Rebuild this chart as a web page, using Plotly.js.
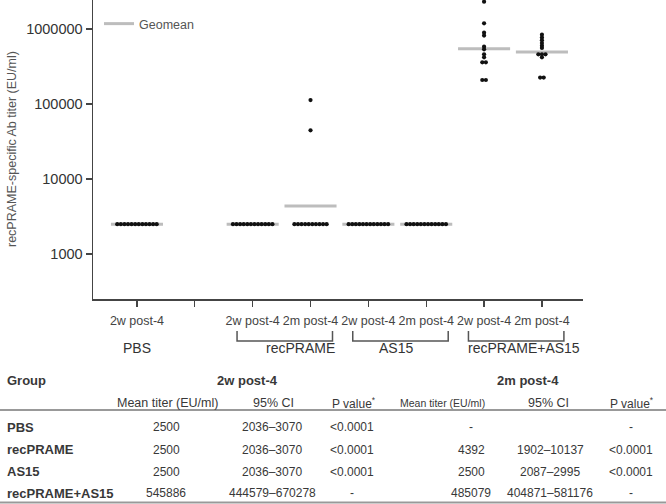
<!DOCTYPE html>
<html>
<head>
<meta charset="utf-8">
<script src="https://cdn.plot.ly/plotly-3.0.1.min.js"></script>
<style>
  body { margin: 0; background: #fff; }
  #chart { width: 666px; height: 504px; }
</style>
</head>
<body>
<div id="chart"></div>
<script>
// x slots on the axis (slot 2 is an unlabeled tick between PBS and recPRAME)
let tickSlots = [1, 3, 4, 5, 6, 7, 8];
let tickLabels = ['2w post-4', '2w post-4', '2m post-4', '2w post-4', '2m post-4', '2w post-4', '2m post-4'];
let blankSlots = [2];

// titers per animal (EU/ml)
let pbs2w = [2500, 2500, 2500, 2500, 2500, 2500, 2500, 2500, 2500, 2500, 2500, 2500];
let recPrame2w = [2500, 2500, 2500, 2500, 2500, 2500, 2500, 2500, 2500, 2500, 2500, 2500];
let recPrame2m = [113000, 44600, 2500, 2500, 2500, 2500, 2500, 2500, 2500, 2500, 2500, 2500];
let as15_2w = [2500, 2500, 2500, 2500, 2500, 2500, 2500, 2500, 2500, 2500, 2500, 2500];
let as15_2m = [2500, 2500, 2500, 2500, 2500, 2500, 2500, 2500, 2500, 2500, 2500, 2500];
let combo2w = [2310000, 1190000, 894000, 819000, 581000, 536000, 460000, 420000, 360000, 360000, 209000, 209000];
let combo2m = [840000, 770000, 710000, 650000, 600000, 560000, 460000, 460000, 460000, 420000, 225000, 225000];

let seriesList = [pbs2w, recPrame2w, recPrame2m, as15_2w, as15_2m, combo2w, combo2m];
let seriesSlots = [1, 3, 4, 5, 6, 7, 8];

// group labels under the axis
let groupNames = ['PBS', 'recPRAME', 'AS15', 'recPRAME+AS15'];
let groupSlots = [[1], [3, 4], [5, 6], [7, 8]];

let yTickVals = [1000, 10000, 100000, 1000000];
let yTickText = ['1000', '10000', '100000', '1000000'];

// table under the chart
let tableGroups = ['PBS', 'recPRAME', 'AS15', 'recPRAME+AS15'];
let mean2w = ['2500', '2500', '2500', '545886'];
let ci2w = ['2036–3070', '2036–3070', '2036–3070', '444579–670278'];
let p2w = ['<0.0001', '<0.0001', '<0.0001', '-'];
let mean2m = ['-', '4392', '2500', '485079'];
let ci2m = ['', '1902–10137', '2087–2995', '404871–581176'];
let p2m = ['-', '<0.0001', '<0.0001', '-'];

// ---- layout helpers (pixels -> paper) ----
let W = 666, H = 504;
function px(x) { return x / W; }
function py(y) { return 1 - y / H; }

let dotGap = 0.062;   // horizontal spacing of tied dots, in slot units
let halfLine = 0.45;  // half width of geomean bar

// dots: tied values are spread side by side
let dotX = [], dotY = [];
let gmX = [], gmY = [];
for (let s = 0; s < seriesList.length; s++) {
  let vals = seriesList[s];
  let counts = {};
  vals.forEach(v => { counts[v] = (counts[v] || 0) + 1; });
  let seen = {};
  vals.forEach(v => {
    let n = counts[v];
    let k = seen[v] || 0;
    seen[v] = k + 1;
    dotX.push(seriesSlots[s] + (k - (n - 1) / 2) * dotGap);
    dotY.push(v);
  });
  let logSum = 0;
  vals.forEach(v => { logSum += Math.log10(v); });
  let gm = Math.pow(10, logSum / vals.length);
  gmX.push(seriesSlots[s] - halfLine, seriesSlots[s] + halfLine, null);
  gmY.push(gm, gm, null);
}

let traces = [
  {
    x: gmX, y: gmY,
    mode: 'lines',
    type: 'scatter',
    name: 'Geomean',
    line: { color: '#bdbdbd', width: 3 },
    hoverinfo: 'skip'
  },
  {
    x: dotX, y: dotY,
    mode: 'markers',
    type: 'scatter',
    showlegend: false,
    marker: { color: '#111', size: 4.2 }
  }
];

let shapes = [];
let annotations = [];

// y axis title, placed by hand at the far left
annotations.push({
  x: px(12), y: py(149), xref: 'paper', yref: 'paper',
  text: 'recPRAME-specific Ab titer (EU/ml)', textangle: -90,
  showarrow: false, xanchor: 'center', yanchor: 'middle',
  font: { size: 12.5, color: '#555' }
});

// brackets + group names under the x axis
let labelShift = [0, 0.28, -0.08, 0.14];
for (let g = 0; g < groupNames.length; g++) {
  let slots = groupSlots[g];
  let first = slots[0], last = slots[slots.length - 1];
  if (slots.length > 1) {
    let a = first - 0.27, b = last + 0.38;
    shapes.push({
      type: 'path', xref: 'x', yref: 'paper',
      path: 'M ' + a + ',' + py(331) + ' L ' + a + ',' + py(341) + ' L ' + b + ',' + py(341) + ' L ' + b + ',' + py(331),
      line: { color: '#555', width: 1.5 }
    });
  }
  let cx = slots.length > 1 ? (first - 0.27 + last + 0.38) / 2 + labelShift[g] : first;
  annotations.push({
    x: cx, y: py(348), xref: 'x', yref: 'paper',
    text: groupNames[g], showarrow: false,
    xanchor: 'center', yanchor: 'middle',
    font: { size: 14, color: '#333' }
  });
}

// table
function cell(text, x, y, anchor, size, bold) {
  if (!text) return;
  annotations.push({
    x: px(x), y: py(y), xref: 'paper', yref: 'paper',
    text: bold ? '<b>' + text + '</b>' : text,
    showarrow: false, xanchor: anchor, yanchor: 'middle',
    font: { size: size, color: '#383838' }
  });
}
cell('Group', 5, 380, 'left', 13, true);
cell('2w post-4', 247, 380, 'center', 13, true);
cell('2m post-4', 528, 380, 'center', 13, true);
cell('Mean titer (EU/ml)', 167, 403, 'center', 12.5, false);
cell('95% CI', 273, 403, 'center', 12.5, false);
cell('P value<sup>*</sup>', 354, 403, 'center', 12, false);
cell('Mean titer (EU/ml)', 442, 403, 'center', 10.5, false);
cell('95% CI', 548, 403, 'center', 12.5, false);
cell('P value<sup>*</sup>', 632, 403, 'center', 12, false);

let rowY = [427, 449.5, 471.5, 493];
for (let r = 0; r < tableGroups.length; r++) {
  cell(tableGroups[r], 5, rowY[r], 'left', 13, true);
  cell(mean2w[r], 166, rowY[r], 'center', 12, false);
  cell(ci2w[r], 272, rowY[r], 'center', 12, false);
  cell(p2w[r], 352, rowY[r], 'center', 12, false);
  cell(mean2m[r], 471, rowY[r], 'center', 12, false);
  cell(ci2m[r], 550, rowY[r], 'center', 12, false);
  cell(p2m[r], 631, rowY[r], 'center', 12, false);
}
shapes.push({ type: 'line', xref: 'paper', yref: 'paper', x0: 0, x1: 1, y0: py(410), y1: py(410), line: { color: '#999', width: 2 } });
shapes.push({ type: 'line', xref: 'paper', yref: 'paper', x0: 0, x1: 1, y0: py(502.5), y1: py(502.5), line: { color: '#999', width: 2 } });

let layout = {
  width: W, height: H,
  margin: { l: 0, r: 0, t: 0, b: 0 },
  paper_bgcolor: '#fff',
  plot_bgcolor: '#fff',
  font: { family: 'Liberation Sans, Arial, sans-serif', color: '#333' },
  showlegend: true,
  legend: {
    x: px(99), y: py(9), xanchor: 'left', yanchor: 'top',
    bgcolor: 'rgba(0,0,0,0)', borderwidth: 0,
    font: { size: 12.5, color: '#555' }
  },
  xaxis: {
    domain: [px(93), px(583)],
    range: [0.24, 8.71],
    tickmode: 'array',
    tickvals: tickSlots,
    ticktext: tickLabels,
    ticks: 'outside', ticklen: 6, tickcolor: '#444', tickwidth: 1.3,
    ticklabelstandoff: 3,
    minor: { tickmode: 'array', tickvals: blankSlots, ticks: 'outside', ticklen: 6, tickcolor: '#444', tickwidth: 1.3, showgrid: false },
    showline: true, linecolor: '#444', linewidth: 1.5,
    showgrid: false, zeroline: false,
    tickfont: { size: 12.5, color: '#444' }
  },
  yaxis: {
    domain: [py(299), 1],
    type: 'log',
    range: [2.4, 6.387],
    tickvals: yTickVals,
    ticktext: yTickText,
    ticks: 'outside', ticklen: 6, tickcolor: '#444', tickwidth: 1.3,
    showline: true, linecolor: '#444', linewidth: 1.5,
    showgrid: false, zeroline: false,
    tickfont: { size: 14.5, color: '#333' }
  },
  shapes: shapes,
  annotations: annotations
};

Plotly.newPlot('chart', traces, layout, { displayModeBar: false, staticPlot: true });
</script>
</body>
</html>
